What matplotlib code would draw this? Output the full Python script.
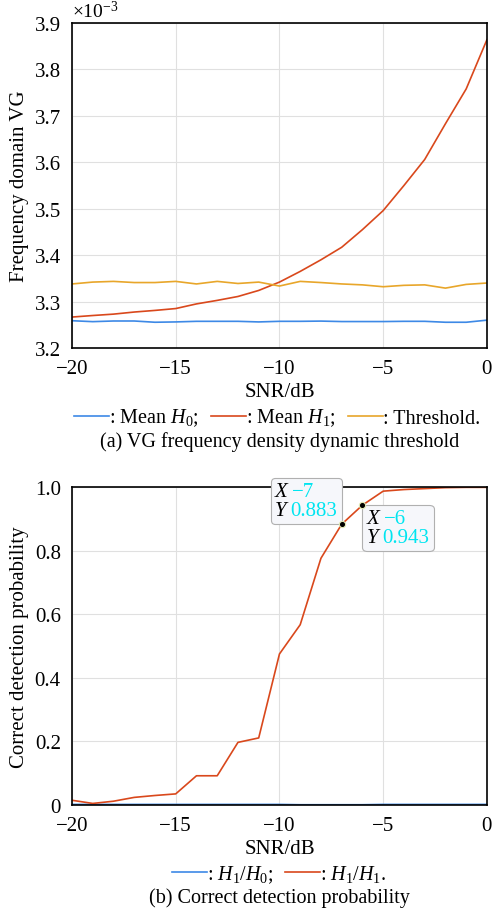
import matplotlib
matplotlib.use('Agg')
import matplotlib.pyplot as plt
from matplotlib.ticker import FuncFormatter
from matplotlib.offsetbox import TextArea, HPacker, VPacker, AnnotationBbox
import numpy as np

plt.rcParams['font.family'] = ['Liberation Serif', 'DejaVu Serif']
plt.rcParams['mathtext.fontset'] = 'custom'
plt.rcParams['mathtext.rm'] = 'Liberation Serif'
plt.rcParams['mathtext.it'] = 'Liberation Serif:italic'
plt.rcParams['font.size'] = 15

snr = list(range(-20, 1))

# (a) values in units of 1e-3
mean_h0 = [3.2588, 3.2568, 3.2582, 3.2582, 3.2555, 3.2562, 3.2575, 3.2575, 3.2575, 3.2562,
           3.2575, 3.2575, 3.2580, 3.2570, 3.2570, 3.2570, 3.2575, 3.2575, 3.2555, 3.2555, 3.2600]
mean_h1 = [3.2667, 3.2700, 3.2730, 3.2775, 3.2810, 3.2850, 3.2950, 3.3026, 3.3110, 3.3240,
           3.3420, 3.3650, 3.3900, 3.4170, 3.4550, 3.4960, 3.5500, 3.6060, 3.6830, 3.7580, 3.8640]
threshold = [3.3380, 3.3420, 3.3435, 3.3410, 3.3410, 3.3435, 3.3380, 3.3435, 3.3390, 3.3420,
             3.3335, 3.3435, 3.3410, 3.3380, 3.3360, 3.3320, 3.3350, 3.3360, 3.3290, 3.3370, 3.3400]

# (b) detection probabilities
p_h1_h0 = [0.002, 0.002, 0.002, 0.002, 0.002, 0.002, 0.002, 0.002, 0.002, 0.002,
           0.002, 0.001, 0.001, 0.001, 0.001, 0.002, 0.002, 0.002, 0.002, 0.002, 0.002]
p_h1_h1 = [0.015, 0.005, 0.012, 0.024, 0.030, 0.035, 0.092, 0.092, 0.197, 0.211,
           0.475, 0.567, 0.776, 0.883, 0.943, 0.987, 0.992, 0.995, 0.998, 0.999, 0.999]

marks = [(-7, 0.883), (-6, 0.943)]

blue = '#3d89e6'
red = '#d9481c'
orange = '#e8a62a'

fig = plt.figure(figsize=(4.94, 9.12), dpi=100)
ax1 = fig.add_axes([0.1457, 0.6173, 0.840, 0.3564])
ax2 = fig.add_axes([0.1457, 0.1162, 0.840, 0.3487])

for ax in (ax1, ax2):
    ax.grid(True, color='#e0e0e0', lw=0.8)
    ax.set_axisbelow(True)
    ax.tick_params(length=0, pad=8)
    for s in ax.spines.values():
        s.set_linewidth(1.2)
    ax.set_xlim(-20, 0)
    ax.set_xticks([-20, -15, -10, -5, 0])
    ax.set_xticklabels(['\u221220', '\u221215', '\u221210', '\u22125', '0'])
    ax.set_xlabel('SNR/dB', labelpad=3)

y1 = [v * 1e-3 for v in mean_h0]
y2 = [v * 1e-3 for v in mean_h1]
y3 = [v * 1e-3 for v in threshold]
ax1.plot(snr, y1, color=blue, lw=1.2, label=r': Mean $H_0$;')
ax1.plot(snr, y2, color=red, lw=1.2, label=r': Mean $H_1$;')
ax1.plot(snr, y3, color=orange, lw=1.2, label=': Threshold.')
ax1.set_ylim(3.2e-3, 3.9e-3)
ax1.set_yticks(np.arange(3.2, 3.91, 0.1) * 1e-3)
ax1.yaxis.set_major_formatter(FuncFormatter(lambda v, p: '%.1f' % (v * 1e3)))
ax1.set_ylabel('Frequency domain VG', labelpad=4)
ax1.text(0.0, 1.005, r'$\times\mathregular{10^{-3}}$', transform=ax1.transAxes,
         fontsize=14, ha='left', va='bottom')
ax1.legend(loc='upper center', bbox_to_anchor=(0.495, -0.125), ncol=3, frameon=False,
           handlelength=1.75, handletextpad=0.0, columnspacing=0.6, fontsize=14.5)
fig.text(0.566, 0.515, '(a) VG frequency density dynamic threshold', ha='center',
         va='center', fontsize=14.5)

ax2.plot(snr, p_h1_h0, color=blue, lw=1.2, label=r': $H_1/H_0$;')
ax2.plot(snr, p_h1_h1, color=red, lw=1.2, label=r': $H_1/H_1$.')
ax2.set_ylim(0, 1.0)
ax2.set_yticks([0, 0.2, 0.4, 0.6, 0.8, 1.0])
ax2.yaxis.set_major_formatter(FuncFormatter(lambda v, p: '0' if v == 0 else '%.1f' % v))
ax2.set_ylabel('Correct detection probability', labelpad=4)
ax2.legend(loc='upper center', bbox_to_anchor=(0.499, -0.125), ncol=2, frameon=False,
           handlelength=1.75, handletextpad=0.0, columnspacing=0.6, fontsize=14.5)
fig.text(0.566, 0.0154, '(b) Correct detection probability', ha='center',
         va='center', fontsize=14.5)

# data tips
placements = [((1, 0), (-3, 3)), ((0, 1), (3, -3))]
for (mx, my), (align, off) in zip(marks, placements):
    ax2.plot(mx, my, 'o', color='black', ms=4.5, mec='#e4ecb8', mew=0.8, zorder=8)
    xs = '\u2212%d' % (-mx)
    rows = []
    for lab, val in (('X', xs), ('Y', '%.3f' % my)):
        rows.append(HPacker(children=[
            TextArea(lab, textprops=dict(fontsize=15, style='italic', color='black')),
            TextArea(val, textprops=dict(fontsize=15, color='#00e5f0'))],
            align='baseline', pad=0, sep=3))
    box = VPacker(children=rows, align='left', pad=0, sep=0)
    ab = AnnotationBbox(box, (mx, my), xybox=off, xycoords='data',
                        boxcoords='offset points', box_alignment=align,
                        pad=0.2, zorder=7,
                        bboxprops=dict(boxstyle='round,pad=0.2', fc='#f6f7fb',
                                       ec='#b0b0b0', lw=0.8))
    ax2.add_artist(ab)

fig.savefig('out.png', dpi=100)
